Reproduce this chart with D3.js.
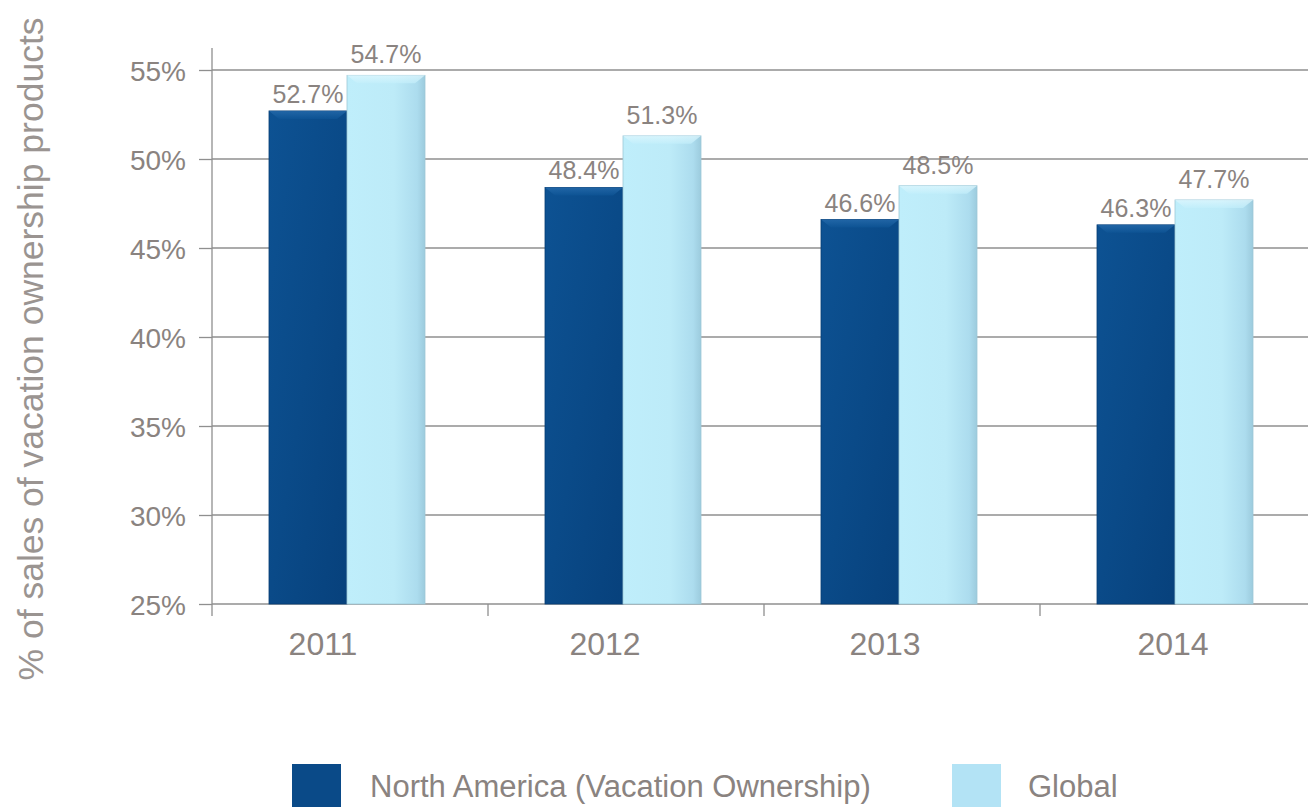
<!DOCTYPE html>
<html>
<head>
<meta charset="utf-8">
<script src="https://cdn.jsdelivr.net/npm/d3@7/dist/d3.min.js"></script>
<style>
  html, body { margin: 0; padding: 0; background: #fff; }
  svg { display: block; font-family: "Liberation Sans", Arial, sans-serif; }
</style>
</head>
<body>
<svg id="chart" width="1308" height="807"></svg>
<script>
// Share of vacation ownership sales, by year
const years = ["2011", "2012", "2013", "2014"];
const seriesNames = ["North America (Vacation Ownership)", "Global"];
const northAmerica = [52.7, 48.4, 46.6, 46.3];
const globalShare = [54.7, 51.3, 48.5, 47.7];
const yTicks = [25, 30, 35, 40, 45, 50, 55];
const yTitle = "% of sales of vacation ownership products";

const textColor = "#8a8380";
const svg = d3.select("#chart");

const left = 212, bottom = 604;
const x = d3.scaleBand().domain(years).range([left, left + 276 * 4]).paddingInner(0).paddingOuter(0);
const y = d3.scaleLinear().domain([25, 55]).range([bottom, 70]);

// Gradients giving the bars their bevelled look
const defs = svg.append("defs");
function linGrad(id, x1, y1, x2, y2, stops) {
  const g = defs.append("linearGradient").attr("id", id)
    .attr("x1", x1).attr("y1", y1).attr("x2", x2).attr("y2", y2);
  stops.forEach(s => g.append("stop").attr("offset", s[0]).attr("stop-color", s[1]));
}
linGrad("darkFill", 0, 0, 1, 1, [[0, "#0d5293"], [0.5, "#0a4a88"], [1, "#07417c"]]);
linGrad("lightFill", 0, 0, 1, 0, [[0, "#bfeefb"], [0.6, "#bdebf8"], [0.9, "#acdcee"], [1, "#9ccbdd"]]);
linGrad("capDark", 0, 0, 0, 1, [[0, "#2a6fb0"], [1, "#0e5596"]]);
linGrad("capLight", 0, 0, 0, 1, [[0, "#e2f8fe"], [1, "#c3effb"]]);

// Horizontal gridlines
svg.append("g").selectAll("line").data(yTicks.filter(t => t > 25)).join("line")
  .attr("x1", left).attr("x2", 1308)
  .attr("y1", d => y(d)).attr("y2", d => y(d))
  .attr("stroke", "#8f8f8f").attr("stroke-width", 1.3);

// Y axis
const yAxis = svg.append("g").attr("transform", `translate(${left},0)`)
  .call(d3.axisLeft(y).tickValues(yTicks).tickFormat(d => d + "%").tickSize(13).tickPadding(13));
yAxis.select(".domain").remove();
yAxis.selectAll(".tick line").attr("stroke", "#8f8f8f").attr("stroke-width", 1.3);
yAxis.selectAll("text").attr("fill", textColor).style("font-size", "28px")
  .attr("dy", "0.36em");
svg.append("line").attr("x1", left).attr("x2", left).attr("y1", 48).attr("y2", bottom)
  .attr("stroke", "#8f8f8f").attr("stroke-width", 1.3);

// X axis (category labels sit slightly left of their bar pairs)
const labelShift = [-27, -21, -17, -5];
const xAxis = svg.append("g").attr("transform", `translate(0,${bottom})`)
  .call(d3.axisBottom(x).tickSize(0).tickPadding(28));
xAxis.select(".domain").attr("stroke", "#8f8f8f").attr("stroke-width", 1.3)
  .attr("d", `M${left},0H1308`);
xAxis.selectAll("text").attr("fill", textColor).style("font-size", "32px")
  .attr("transform", (d, i) => `translate(${labelShift[i]},0)`);
svg.append("g").selectAll("line").data(years).join("line")
  .attr("x1", d => x(d)).attr("x2", d => x(d))
  .attr("y1", bottom).attr("y2", bottom + 12)
  .attr("stroke", "#8f8f8f").attr("stroke-width", 1.3);

// Bars
const barW = 78;
const series = [
  { values: northAmerica, fill: "url(#darkFill)", cap: "url(#capDark)", offset: -barW, edge: "#063c73", gap: 8 },
  { values: globalShare, fill: "url(#lightFill)", cap: "url(#capLight)", offset: 0, edge: "#9fc9d8", gap: 12 }
];
series.forEach(s => {
  const g = svg.append("g");
  years.forEach((yr, i) => {
    const v = s.values[i];
    const cx = x(yr) + x.bandwidth() / 2 - 3;
    const x0 = cx + s.offset;
    const top = y(v);
    g.append("rect").attr("x", x0).attr("y", top).attr("width", barW).attr("height", bottom - top)
      .attr("fill", s.fill).attr("stroke", s.edge).attr("stroke-width", 0.8);
    // bevel cap along the top edge
    g.append("path")
      .attr("d", `M${x0},${top}H${x0 + barW}L${x0 + barW - 10},${top + 8}H${x0 + 10}Z`)
      .attr("fill", s.cap).attr("opacity", 0.7);
    g.append("text").attr("x", x0 + barW / 2).attr("y", top - s.gap)
      .attr("text-anchor", "middle").attr("fill", textColor).style("font-size", "25px")
      .text(v.toFixed(1) + "%");
  });
});

// Y axis title
svg.append("text")
  .attr("transform", "translate(43,349) rotate(-90)")
  .attr("text-anchor", "middle").attr("fill", "#9a9491").style("font-size", "35.5px")
  .text(yTitle);

// Legend
const legend = [
  { name: seriesNames[0], color: "#0a4a88", x: 292, tx: 370 },
  { name: seriesNames[1], color: "#b3e3f5", x: 952, tx: 1028 }
];
const lg = svg.append("g");
legend.forEach(l => {
  lg.append("rect").attr("x", l.x).attr("y", 764).attr("width", 49).attr("height", 43)
    .attr("fill", l.color);
  lg.append("text").attr("x", l.tx).attr("y", 797).attr("fill", textColor)
    .style("font-size", "31px").text(l.name);
});
</script>
</body>
</html>
